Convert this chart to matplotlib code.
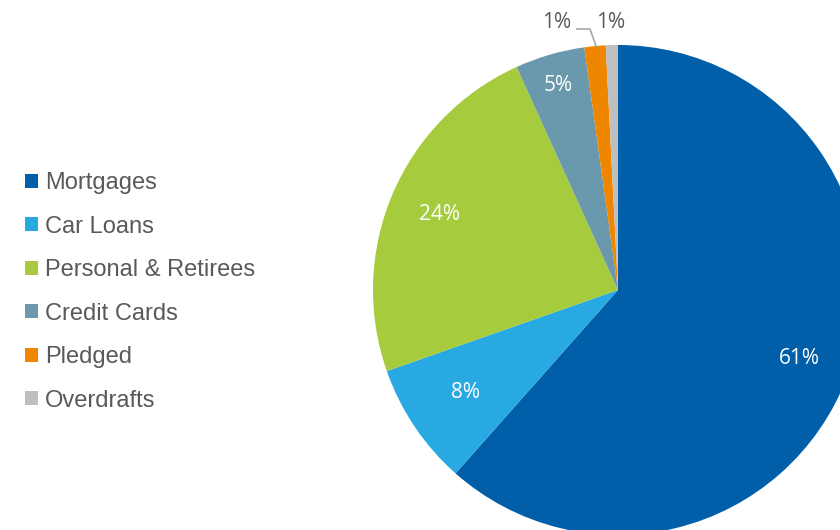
import matplotlib
matplotlib.use("Agg")
import matplotlib.pyplot as plt
from matplotlib.patches import Patch
import numpy as np

categories = ["Mortgages", "Car Loans", "Personal & Retirees", "Credit Cards", "Pledged", "Overdrafts"]
shares = [61.6, 8.1, 23.6, 4.6, 1.4, 0.8]
labels = ["61%", "8%", "24%", "5%", "1%", "1%"]
colors = ["#005FA8", "#29A9E1", "#A6CB3C", "#6A98AC", "#EE8600", "#BFBFBF"]

W, H = 840, 530
fig = plt.figure(figsize=(W / 100, H / 100), dpi=100)
ax = fig.add_axes([0, 0, 1, 1])

cx, cy, r = 618, H - 290, 245
wedges, _ = ax.pie(shares, colors=colors, startangle=90, counterclock=False,
                   center=(cx, cy), radius=r, frame=True,
                   wedgeprops=dict(linewidth=0))
ax.set_xlim(0, W)
ax.set_ylim(0, H)
ax.set_aspect("equal")
ax.axis("off")

# labels inside slices (white) at chosen radial fractions
inner = {0: 0.79, 1: 0.75, 2: 0.79, 3: 0.87}
start = 90.0
total = sum(shares)
mids = []
for s in shares:
    span = 360 * s / total
    mids.append(np.deg2rad(start - span / 2))
    start -= span
for i, frac in inner.items():
    x = cx + r * frac * np.cos(mids[i])
    y = cy + r * frac * np.sin(mids[i])
    ax.text(x, y, labels[i], color="white", fontsize=15, ha="center", va="center",
            family="Open Sans")

# small slices labelled outside
ax.text(557, H - 22, labels[4], color="#595959", fontsize=15, ha="center", va="center",
        family="Open Sans")
ax.text(611, H - 22, labels[5], color="#595959", fontsize=15, ha="center", va="center",
        family="Open Sans")
ax.plot([577, 590, 596], [H - 29, H - 29, H - 46], color="#A6A6A6", lw=1.2)

handles = [Patch(facecolor=c, edgecolor="none") for c in colors]
leg = fig.legend(handles, categories, loc="upper left", bbox_to_anchor=(0.03, 0.675),
                 frameon=False, fontsize=17, handlelength=0.55, handleheight=0.55,
                 handletextpad=0.28, labelspacing=0.91, borderpad=0, borderaxespad=0)
for t in leg.get_texts():
    t.set_color("#595959")
    t.set_family("Liberation Sans")

fig.savefig("out.png", dpi=100)
